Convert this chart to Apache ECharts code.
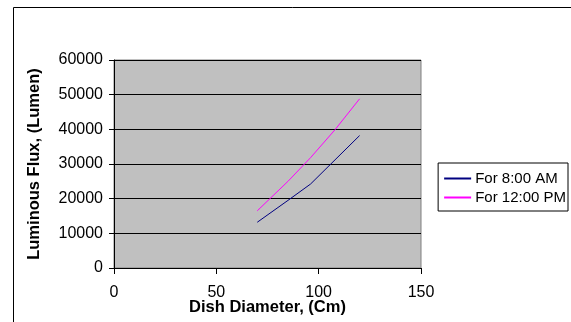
<!DOCTYPE html>
<html>
<head>
<meta charset="utf-8">
<script src="https://cdn.jsdelivr.net/npm/echarts@6/dist/echarts.min.js"></script>
<style>
  html, body { margin: 0; padding: 0; background: #fff; }
  #chart { width: 571px; height: 322px; }
</style>
</head>
<body>
<div id="chart"></div>
<script>
// dish diameter (cm)
const diameters = [70, 85, 96, 108, 120];
// luminous flux (lumen)
const fluxMorning = [13200, 19500, 24200, 31200, 38200];
const fluxNoon = [16500, 25000, 31800, 39900, 48800];
const seriesNames = ["For 8:00 AM", "For 12:00 PM"];

const font = "Liberation Sans, Arial, sans-serif";

const pairs = (xs, ys) => xs.map((x, i) => [x, ys[i]]);

const chart = echarts.init(document.getElementById("chart"));
chart.setOption({
  animation: false,
  color: ["#000080", "#FF00FF"],
  textStyle: { fontFamily: font },
  graphic: [
    {
      type: "rect",
      shape: { x: 13.5, y: 7.5, width: 700, height: 500 },
      style: { fill: null, stroke: "#000", lineWidth: 1 },
      z: -10,
    },
  ],
  grid: {
    left: 114,
    right: 150,
    top: 60,
    bottom: 54,
    outerBoundsMode: "none",
    show: true,
    backgroundColor: "#C0C0C0",
    borderColor: "#808080",
    borderWidth: 1,
  },
  legend: {
    right: 3,
    top: 163,
    orient: "vertical",
    itemWidth: 27,
    itemHeight: 2,
    itemGap: 4,
    padding: [8, 2, 6, 6],
    borderColor: "#000",
    borderWidth: 1,
    borderRadius: 0,
    icon: "rect",
    textStyle: { fontFamily: font, fontSize: 15, lineHeight: 15, color: "#000", padding: [0, 0, 0, -1] },
    data: seriesNames,
  },
  xAxis: {
    type: "value",
    min: 0,
    max: 150,
    interval: 50,
    name: "Dish Diameter, (Cm)",
    nameLocation: "middle",
    nameGap: 31,
    nameMoveOverlap: false,
    nameTextStyle: { fontFamily: font, fontSize: 16.5, fontWeight: "bold", color: "#000" },
    axisLine: { show: true, onZero: false, lineStyle: { color: "#000", width: 1 } },
    axisTick: { show: true, length: 6, lineStyle: { color: "#000" } },
    axisLabel: { fontFamily: font, fontSize: 16, color: "#000", margin: 17, formatter: (v) => String(v) },
    splitLine: { show: false },
  },
  yAxis: {
    type: "value",
    min: 0,
    max: 60000,
    interval: 10000,
    name: "Luminous Flux, (Lumen)",
    nameLocation: "middle",
    nameGap: 71,
    nameMoveOverlap: false,
    nameTextStyle: { fontFamily: font, fontSize: 16.5, fontWeight: "bold", color: "#000" },
    axisLine: { show: true, lineStyle: { color: "#000", width: 1 } },
    axisTick: { show: true, length: 5, lineStyle: { color: "#000" } },
    axisLabel: { fontFamily: font, fontSize: 16, color: "#000", margin: 11, formatter: (v) => String(v) },
    splitLine: { show: true, lineStyle: { color: "#000", width: 1 } },
  },
  series: [
    {
      name: seriesNames[0],
      type: "line",
      data: pairs(diameters, fluxMorning),
      showSymbol: false,
      lineStyle: { width: 1 },
    },
    {
      name: seriesNames[1],
      type: "line",
      data: pairs(diameters, fluxNoon),
      showSymbol: false,
      lineStyle: { width: 1 },
    },
  ],
});
</script>
</body>
</html>
